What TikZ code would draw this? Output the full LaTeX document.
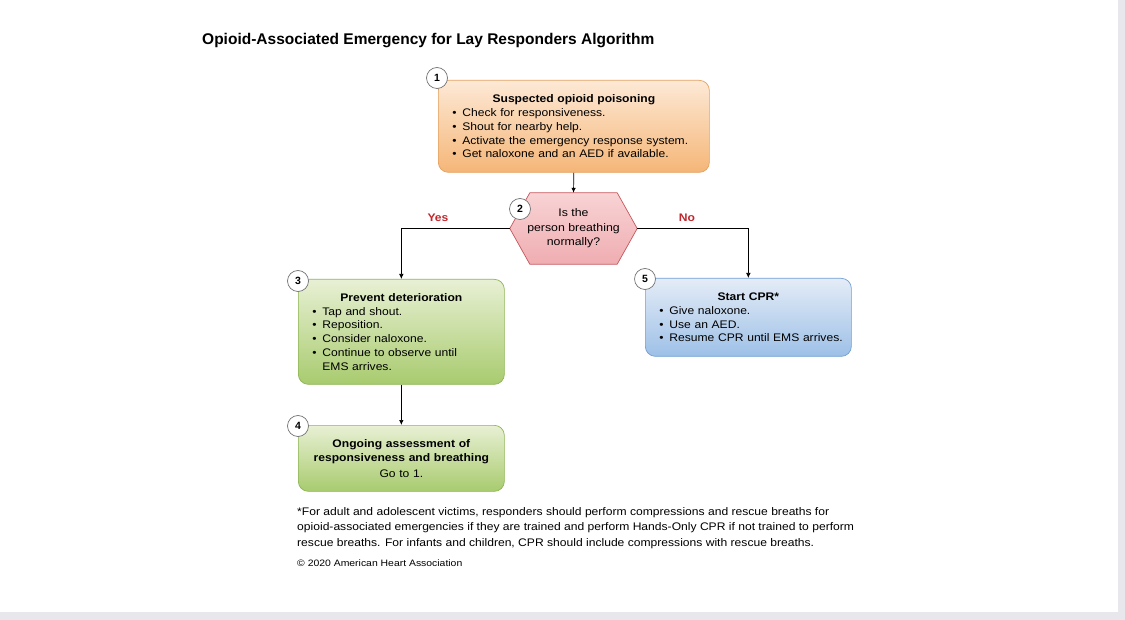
\documentclass[tikz,border=0pt]{standalone}
\usepackage{fontspec}
\setmainfont{Liberation Sans}
\newfontfamily\wideA[FakeStretch=1.1]{Liberation Sans}
\newfontfamily\wideB[FakeStretch=1.12]{Liberation Sans}
\usetikzlibrary{arrows.meta,calc,backgrounds}
\definecolor{orTop}{HTML}{FDE9D6}
\definecolor{orBot}{HTML}{F5B677}
\definecolor{orLine}{HTML}{E3A160}
\definecolor{grTop}{HTML}{E8F0D4}
\definecolor{grBot}{HTML}{A8CB6E}
\definecolor{grLine}{HTML}{8DB555}
\definecolor{blTop}{HTML}{E4ECF7}
\definecolor{blBot}{HTML}{9DC0E7}
\definecolor{blLine}{HTML}{6F9FD3}
\definecolor{pkTop}{HTML}{F8D3D5}
\definecolor{pkBot}{HTML}{EFADB1}
\definecolor{pkLine}{HTML}{C4575C}
\definecolor{ansRed}{HTML}{C0282D}
\definecolor{edgeGray}{HTML}{E8E8EC}
\newcommand{\bul}[1]{\par\hangindent=10pt\hangafter=1\noindent\makebox[10pt][l]{\textbullet}#1\par}
\newcommand{\boxtitle}[1]{{\centering\bfseries #1\par}}
\begin{document}
\begin{tikzpicture}[x=1pt,y=-1pt,
  box/.style={draw, rounded corners=10pt, line width=0.7pt, anchor=north west,
    inner xsep=14pt, inner ysep=0pt, align=left,
    font=\wideA\fontsize{11}{13.8}\selectfont},
  orbox/.style={box, draw=orLine, top color=orTop, bottom color=orBot},
  grbox/.style={box, draw=grLine, top color=grTop, bottom color=grBot},
  blbox/.style={box, draw=blLine, top color=blTop, bottom color=blBot},
  numcirc/.style={circle, draw=black!55, line width=0.7pt, fill=white, minimum size=21pt,
    inner sep=0pt, font=\bfseries\fontsize{10.5}{10}\selectfont},
  arr/.style={line width=0.7pt, -{Latex[length=5pt,width=4.5pt]}},
  ans/.style={font=\wideA\bfseries\fontsize{11}{12}\selectfont, text=ansRed},
  hexa/.style={draw=pkLine, line width=0.7pt, top color=pkTop, bottom color=pkBot}
]
\useasboundingbox (0,0) rectangle (1125,620);
\begin{scope}[on background layer]
\fill[white] (0,0) rectangle (1125,620);
\end{scope}
\fill[edgeGray] (1118,0) rectangle (1125,620);
\fill[edgeGray] (0,612) rectangle (1125,620);

\node[anchor=west, inner sep=0pt, font=\bfseries\fontsize{15.5}{18}\selectfont] (title) at (202,41)
  {Opioid-Associated Emergency for Lay Responders Algorithm};

% Box 1
\node[orbox, text width=243pt, minimum width=271pt, minimum height=92pt] (b1) at (438,80) {%
  \boxtitle{Suspected opioid poisoning}
  \bul{Check for responsiveness.}
  \bul{Shout for nearby help.}
  \bul{Activate the emergency response system.}
  \bul{Get naloxone and an AED if available.}};
\node[numcirc] (n1) at (437,78) {1};

% Decision 2
\node[inner sep=0pt, minimum width=127pt, minimum height=71pt, align=center,
  font=\wideB\fontsize{11}{14.5}\selectfont] (d2) at (573.5,228.5)
  {Is the\\person breathing\\normally?};
\begin{scope}[on background layer]
\path[hexa] (d2.west) -- ($(d2.north west)+(20,0)$) -- ($(d2.north east)+(-20,0)$)
  -- (d2.east) -- ($(d2.south east)+(-20,0)$) -- ($(d2.south west)+(20,0)$) -- cycle;
\end{scope}
\node[numcirc] (n2) at (520,209) {2};

% Box 3
\node[grbox, text width=178pt, minimum width=206pt, minimum height=105pt] (b3) at (298,279) {%
  \boxtitle{Prevent deterioration}
  \bul{Tap and shout.}
  \bul{Reposition.}
  \bul{Consider naloxone.}
  \bul{Continue to observe until\newline EMS arrives.}};
\node[numcirc] (n3) at (298,281) {3};

% Box 4
\node[grbox, text width=178pt, minimum width=206pt, minimum height=66pt, align=center] (b4) at (298,425) {%
  \textbf{Ongoing assessment of}\\\textbf{responsiveness and breathing}\\[2pt]Go to 1.};
\node[numcirc] (n4) at (298,426) {4};

% Box 5
\node[blbox, text width=178pt, minimum width=206pt, minimum height=78pt, inner xsep=13pt] (b5) at (645,278) {%
  \boxtitle{Start CPR*}
  \bul{Give naloxone.}
  \bul{Use an AED.}
  \bul{\mbox{Resume CPR until EMS arrives.}}};
\node[numcirc] (n5) at (645,279) {5};

% Connectors
\draw[arr] (b1.south) -- (d2.north);
\draw[arr] (d2.west) -| (b3.north);
\draw[arr] (d2.east) -| (b5.north);
\draw[arr] (b3.south) -- (b4.north);

\node[ans] (yes) at (438,218) {Yes};
\node[ans] (no) at (687,218) {No};

% Footnote
\node[anchor=north west, align=left, inner sep=0pt, font=\wideA\fontsize{11}{15.5}\selectfont] (foot) at (297,507)
  {*For adult and adolescent victims, responders should perform compressions and rescue breaths for\\
   opioid-associated emergencies if they are trained and perform Hands-Only CPR if not trained to perform\\
   rescue breaths. For infants and children, CPR should include compressions with rescue breaths.};
\node[anchor=west, inner sep=0pt, font=\wideB\fontsize{9.3}{10}\selectfont] (copy) at (297,563)
  {© 2020 American Heart Association};
\end{tikzpicture}
\end{document}
